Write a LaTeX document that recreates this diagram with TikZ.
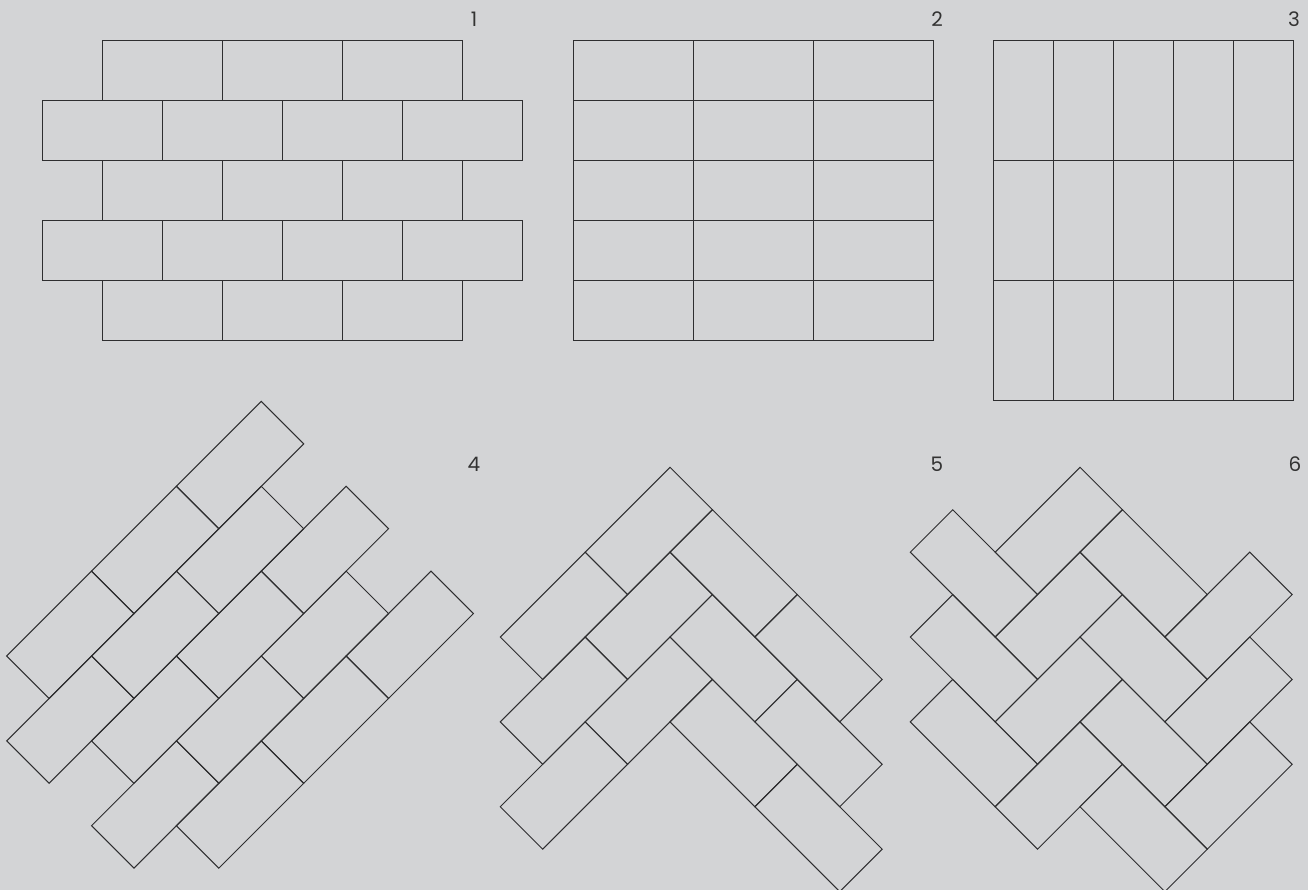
\documentclass[tikz,border=0pt]{standalone}
\usepackage{fontspec}
\setmainfont{Poppins}
\definecolor{bgc}{HTML}{D3D4D6}
\definecolor{linec}{HTML}{2E2E30}
\newcommand\brA[2]{\draw[brick] (#1,#2) -- ++(2,0) -- ++(0,1) -- ++(-2,0) -- cycle;}
\newcommand\brB[2]{\draw[brick] (#1,#2) -- ++(1,0) -- ++(0,2) -- ++(-1,0) -- cycle;}
\begin{document}
\begin{tikzpicture}[x=1pt,y=-1pt,
  brick/.style={draw=linec,line width=1pt,line join=miter},
  lab/.style={font=\fontsize{20}{20}\selectfont,text=black!80,inner sep=0pt,anchor=center}]
\fill[bgc] (0,0) rectangle (1308,890);
\useasboundingbox (0,0) rectangle (1308,890);
\clip (0,0) rectangle (1308,890);
% Pattern 1: running bond
\foreach \r in {0,2,4}{
  \foreach \c in {0,1,2}{
    \draw[brick] (102.5+120*\c,40.5+60*\r) rectangle ++(120,60);}}
\foreach \r in {1,3}{
  \foreach \c in {0,1,2,3}{
    \draw[brick] (42.5+120*\c,40.5+60*\r) rectangle ++(120,60);}}
% Pattern 2: stack bond
\foreach \r in {0,...,4}{
  \foreach \c in {0,1,2}{
    \draw[brick] (573.3+120*\c,40.5+60*\r) rectangle ++(120,60);}}
% Pattern 3: vertical stack
\foreach \r in {0,1,2}{
  \foreach \c in {0,...,4}{
    \draw[brick] (993.5+60*\c,40.5+120*\r) rectangle ++(60,120);}}
% Pattern 4: diagonal running bond
\begin{scope}[shift={(6.7,656)},x={(42.43pt,42.43pt)},y={(42.43pt,-42.43pt)}]
\foreach \q in {0,2,4}{\foreach \p in {0,2,4}{\brA{\p}{\q}}}
\foreach \q in {1,3}{\foreach \p in {-1,1,3}{\brA{\p}{\q}}}
\end{scope}
% Pattern 5: herringbone
\begin{scope}[shift={(670,467.3)},x={(42.43pt,42.43pt)},y={(42.43pt,-42.43pt)}]
\brA{-2}{0}\brA{-4}{0}\brA{-3}{1}\brA{-5}{1}\brA{-4}{2}\brA{-6}{2}
\brB{-1}{1}\brB{-1}{3}\brB{-2}{2}\brB{-2}{4}\brB{-3}{3}\brB{-3}{5}
\end{scope}
% Pattern 6: offset herringbone
\begin{scope}[shift={(1080,467.3)},x={(42.43pt,42.43pt)},y={(42.43pt,-42.43pt)}]
\brA{-2}{0}\brA{-3}{1}\brA{-4}{2}\brA{-5}{3}\brA{-1}{3}\brA{-2}{4}\brA{-3}{5}
\brB{-3}{-1}\brB{-4}{0}\brB{-5}{1}\brB{-1}{1}\brB{-2}{2}\brB{-3}{3}\brB{-4}{4}
\end{scope}
% Labels
\node[lab] (l1) at (474,19) {1};
\node[lab] (l2) at (937,19) {2};
\node[lab] (l3) at (1294,19) {3};
\node[lab] (l4) at (474,464) {4};
\node[lab] (l5) at (937,464) {5};
\node[lab] (l6) at (1295,464) {6};
\end{tikzpicture}
\end{document}
